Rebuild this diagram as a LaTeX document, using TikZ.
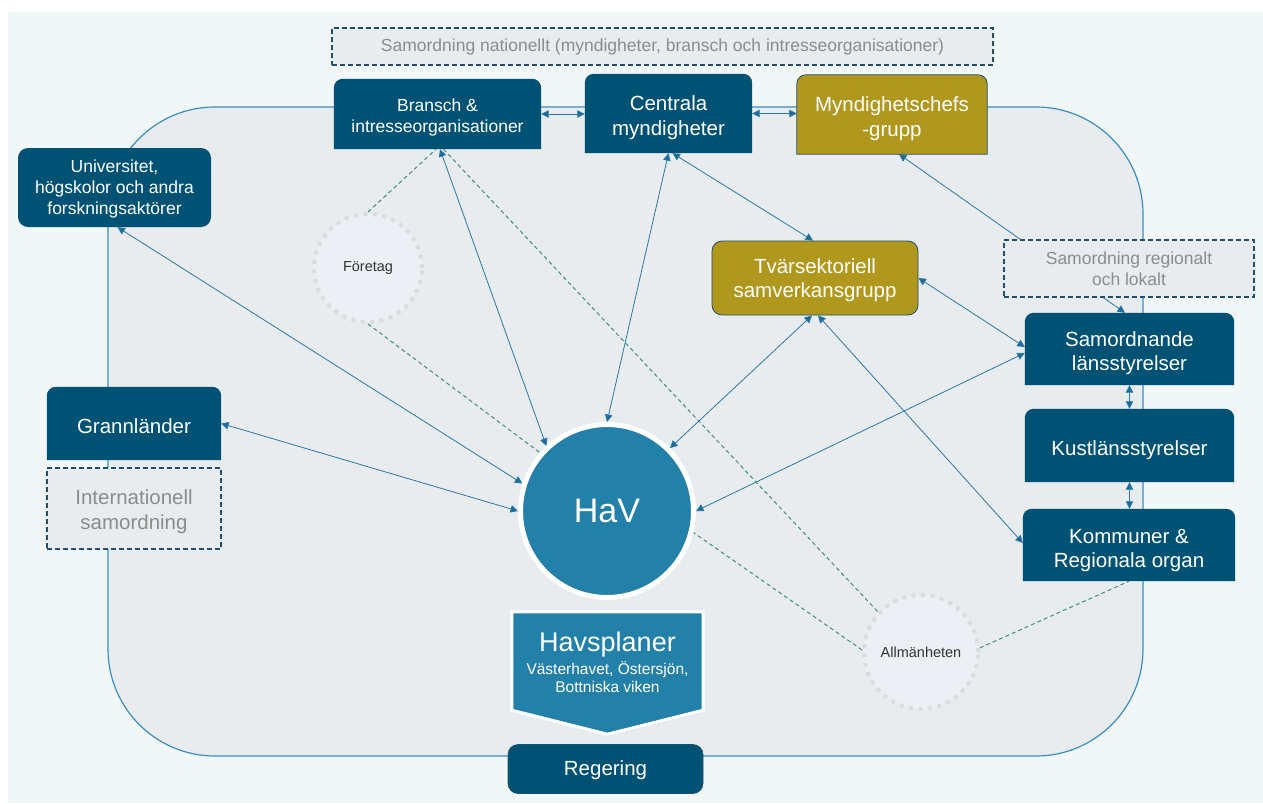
\documentclass[tikz,border=0pt]{standalone}
\usepackage{fontspec}
\setmainfont{Liberation Sans}
\usetikzlibrary{arrows.meta,calc}
\definecolor{dblue}{HTML}{005275}
\definecolor{olivec}{HTML}{B0971D}
\definecolor{havblue}{HTML}{2380A8}
\definecolor{framefill}{HTML}{E8ECEE}
\definecolor{frameline}{HTML}{3A8FBF}
\definecolor{outerbg}{HTML}{F1F6F7}
\definecolor{dashbord}{HTML}{1F4F6E}
\definecolor{graytext}{HTML}{8C8C8C}
\definecolor{conn}{HTML}{2A78A6}
\definecolor{tipc}{HTML}{1D6A96}
\definecolor{greenc}{HTML}{3F8F7E}
\definecolor{circfill}{HTML}{ECEFF3}
\definecolor{circdot}{HTML}{D6DEE2}
\definecolor{darktext}{HTML}{333333}
\pgfdeclarelayer{bg}
\pgfdeclarelayer{edges}
\pgfdeclarelayer{shapes}
\pgfsetlayers{bg,edges,shapes,main}
\newcommand\toprnd[2]{%
  \path[#2] (#1.south west) -- ([yshift=-9pt]#1.north west)
    arc[start angle=180,end angle=90,radius=9pt] -- ([xshift=-9pt]#1.north east)
    arc[start angle=90,end angle=0,radius=9pt] -- (#1.south east) -- cycle;}
\newcommand\dn[1]{\rule{0pt}{\dimexpr0.73em+#1+#1\relax}}
\tikzset{
  big/.style={font=\fontsize{20.5}{24.6}\selectfont},
  small/.style={font=\fontsize{17.5}{21}\selectfont},
  tbox/.style n args={2}{text=white, align=center, inner sep=0pt, minimum width=#1pt, minimum height=#2pt},
  rbox/.style n args={2}{tbox={#1}{#2}, fill=dblue, rounded corners=10pt},
  dashbox/.style n args={2}{draw=dashbord, dash pattern=on 5pt off 3pt, line width=1.2pt, fill=framefill, text=graytext, align=center, minimum width=#1pt, minimum height=#2pt, inner sep=0pt},
  peer/.style={circle, fill=circfill, draw=circdot, line width=4pt, dash pattern=on 4pt off 5.5pt, text=darktext, font=\fontsize{14.5}{17}\selectfont, inner sep=0pt},
  link/.style={draw=conn, line width=0.8pt, {Triangle[length=7.5pt,width=7.5pt,fill=tipc]}-{Triangle[length=7.5pt,width=7.5pt,fill=tipc]}},
  dlink/.style={draw=greenc, line width=1pt, dash pattern=on 4pt off 3pt},
}
\begin{document}
\begin{tikzpicture}[x=1pt,y=-1pt]
\useasboundingbox (0,0) rectangle (1263,803);
\begin{pgfonlayer}{bg}
\fill[white] (0,0) rectangle (1263,803);
\fill[outerbg] (8,12) rectangle (1263,803);
\draw[frameline, fill=framefill, line width=1.2pt, rounded corners=107pt] (108,107) rectangle (1143,756);
\end{pgfonlayer}

% nodes
\node[dashbox={661}{37}, small] (nat) at (662.5,46.5) {Samordning nationellt (myndigheter, bransch och intresseorganisationer)};
\node[tbox={207}{70}, small] (bransch) at (437.5,114) {\dn{3.5pt}Bransch \&\\intresseorganisationer};
\node[tbox={167}{79}, big] (centrala) at (668.5,113.5) {\dn{4pt}Centrala\\myndigheter};
\node[tbox={190}{79}, big] (mynd) at (892,114.5) {\dn{4pt}Myndighetschefs\\-grupp};
\node[rbox={193}{79}, small] (univ) at (114.5,187.5) {\dn{1.5pt}Universitet,\\högskolor och andra\\forskningsaktörer};
\node[rbox={206}{74}, big, fill=olivec, draw=dashbord, line width=0.8pt] (tvar) at (815,278) {\dn{2pt}Tvärsektoriell\\samverkansgrupp};
\node[dashbox={250}{57}, small] (regnl) at (1129,268.5) {Samordning regionalt\\och lokalt};
\node[tbox={209}{72}, big] (saml) at (1129.5,349) {\dn{4pt}Samordnande\\länsstyrelser};
\node[tbox={209}{73}, big] (kust) at (1129.5,445.5) {\dn{4.5pt}Kustlänsstyrelser};
\node[tbox={212}{72}, big] (komm) at (1129,545) {\dn{5pt}Kommuner \&\\Regionala organ};
\node[tbox={174}{73}, big] (grann) at (134,423.5) {\dn{3pt}Grannländer};
\node[dashbox={174}{81}, big] (intl) at (134,508.5) {\dn{3pt}Internationell\\samordning};
\node[circle, fill=havblue, draw=white, line width=5pt, minimum size=173pt, text=white, font=\fontsize{34}{40}\selectfont, inner sep=0pt] (hav) at (607,511) {HaV};
\node[peer, minimum size=108pt] (foret) at (368,268) {Företag};
\node[peer, minimum size=114pt] (allm) at (921,652) {Allmänheten};
\node[rbox={195}{49}, big, draw=dashbord, line width=0.6pt] (reg) at (605.5,769) {\dn{1.5pt}Regering};
\node[minimum width=191pt, minimum height=122pt, inner sep=0pt] (havspl) at (607.5,673) {};
\node[text=white, align=center, inner sep=0pt, font=\fontsize{15.5}{18.5}\selectfont] (havspltxt) at (607.5,662.5) {{\fontsize{27}{30}\selectfont Havsplaner}\\[3pt]Västerhavet, Östersjön,\\Bottniska viken};

\begin{pgfonlayer}{shapes}
\toprnd{bransch}{fill=dblue}
\toprnd{centrala}{fill=dblue}
\toprnd{mynd}{fill=olivec, draw=dashbord, line width=0.8pt}
\toprnd{saml}{fill=dblue}
\toprnd{kust}{fill=dblue}
\toprnd{komm}{fill=dblue}
\toprnd{grann}{fill=dblue}
\path[fill=havblue, draw=white, line width=3pt, line join=miter]
  (havspl.north west) -- (havspl.north east) -- ([yshift=24pt]havspl.south east)
  -- (havspl.south) -- ([yshift=24pt]havspl.south west) -- cycle;
\end{pgfonlayer}

\begin{pgfonlayer}{edges}
\draw[link] (bransch.east) -- (centrala.west |- bransch.east);
\draw[link] (centrala.east) -- (mynd.west |- centrala.east);
\draw[link] ([xshift=3pt]univ.south) -- (hav.162);
\draw[link] (grann.east) -- (hav.180);
\draw[link] ([xshift=2.5pt]bransch.south) -- (hav.133);
\draw[link] (centrala.south) -- (hav.90);
\draw[link] ([xshift=4pt]centrala.south) -- ([xshift=-2pt]tvar.north);
\draw[link] ([xshift=7pt]mynd.south) -- ([xshift=-4.5pt]saml.north);
\draw[link] (tvar.east) -- ([yshift=2pt]saml.west);
\draw[link] ([xshift=-3pt]tvar.south) -- (hav.45);
\draw[link] ([xshift=3pt]tvar.south) -- ([yshift=2pt]komm.west);
\draw[link] ([yshift=-4pt]saml.west) -- (hav.0);
\draw[link] (saml.south) -- (saml.south |- kust.north);
\draw[link] (kust.south) -- (kust.south |- komm.north);
\draw[dlink] (foret.north) -- ([xshift=-1.5pt]bransch.south);
\draw[dlink] (foret.south) -- (hav.139);
\draw[dlink] ([xshift=6pt]bransch.south) -- (allm.137);
\draw[dlink] (allm.178) -- (hav.-14);
\draw[dlink] (allm.4) -- (komm.south);
\end{pgfonlayer}
\end{tikzpicture}
\end{document}
